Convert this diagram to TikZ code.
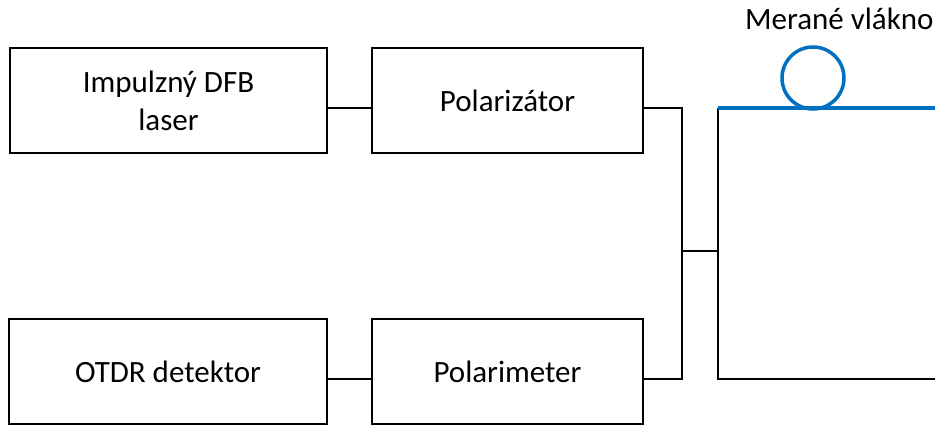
\documentclass[tikz,border=0pt]{standalone}
\usepackage{fontspec}
\setmainfont{Carlito}
\begin{document}
\begin{tikzpicture}[x=1pt,y=-1pt,
  blk/.style={draw=black, line width=2pt, rectangle, minimum height=105pt, align=center, inner sep=0pt, font=\fontsize{31}{38}\selectfont},
  wire/.style={draw=black, line width=2pt},
  fiber/.style={draw=fiberblue, line width=3.5pt},
  lbl/.style={font=\fontsize{31}{38}\selectfont, inner sep=0pt}]
\definecolor{fiberblue}{HTML}{0070C0}
\useasboundingbox (0,0) rectangle (935,424);
\node[blk, minimum width=317pt] (laser) at (168.5,100.5) {Impulzný DFB\\laser};
\node[blk, minimum width=271pt] (polz) at (507.5,100.5) {Polarizátor};
\node[blk, minimum width=318pt] (otdr) at (168,371.5) {OTDR detektor};
\node[blk, minimum width=271pt] (polm) at (507.5,371.5) {Polarimeter};
\coordinate (ja) at (682,108);
\coordinate (jb) at (682,379);
\coordinate (jm) at (682,251);
\coordinate (jn) at (718,251);
\coordinate (ft) at (718,108);
\coordinate (fb) at (718,379);
\coordinate (et) at (935,108);
\coordinate (eb) at (935,379);
\draw[wire] ([yshift=-7.5pt]laser.east) -- ([yshift=-7.5pt]polz.west);
\draw[wire] ([yshift=-7.5pt]otdr.east) -- ([yshift=-7.5pt]polm.west);
\draw[wire] ([yshift=-7.5pt]polz.east) -- (ja) -- (jb) -- ([yshift=-7.5pt]polm.east);
\draw[wire] (jm) -- (jn);
\draw[wire] (ft) -- (fb) -- (eb);
\draw[fiber] (ft) -- (et);
\node[draw=fiberblue, line width=3.5pt, circle, minimum size=62pt, inner sep=0pt] (loop) at (813,78) {};
\node[lbl, anchor=base west] (title) at (745,29) {Merané vlákno};
\end{tikzpicture}
\end{document}
